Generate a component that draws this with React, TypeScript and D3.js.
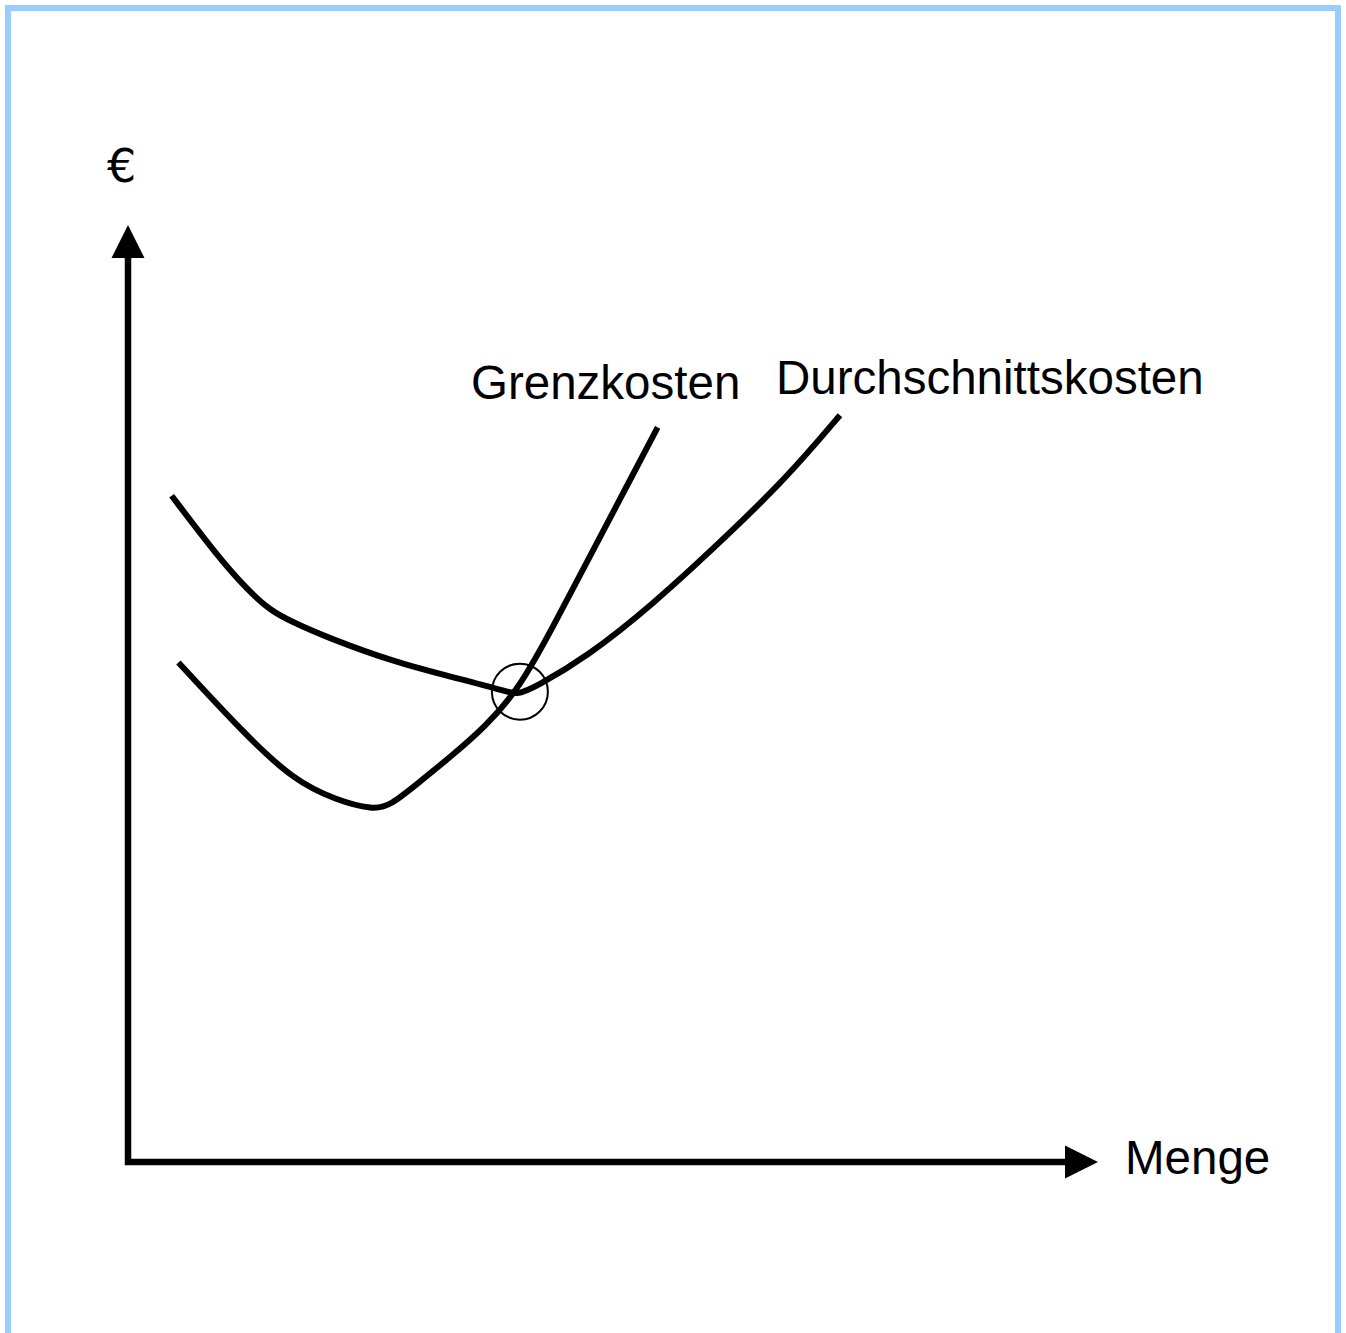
import React, { useRef, useEffect } from "react";
import * as d3 from "d3";

// Menge (x) and € (y) on a 0..100 scale
const mcQty = [5.2, 11.9, 17.0, 21.5, 25.3, 27.0, 30.1, 33.2, 36.8, 40.4, 44.0, 47.3, 50.8, 54.6];
const mcCost = [53.3, 45.8, 40.8, 38.6, 37.6, 38.0, 40.6, 43.2, 46.4, 50.6, 57.5, 64.0, 70.9, 78.4];

const acQty = [4.5, 9.5, 12.3, 14.6, 17.0, 20.5, 27.3, 34.0, 38.5, 40.1, 42.0, 47.3, 54.1, 61.0, 67.9, 73.4];
const acCost = [71.1, 64.3, 61.1, 58.9, 57.6, 56.0, 53.4, 51.6, 50.4, 49.8, 50.7, 53.9, 59.5, 66.1, 73.0, 79.7];

const labels = ["Grenzkosten", "Durchschnittskosten"];
const xLabel = "Menge";
const yLabel = "€";
const optimum = [40.4, 50.2];

const App = () => {
  const svgRef = useRef<SVGSVGElement>(null);

  useEffect(() => {
    document.body.style.margin = "0";
    const width = 1346;
    const height = 1333;
    const font = "'Liberation Sans', Arial, sans-serif";

    const x = d3.scaleLinear().domain([0, 100]).range([128, 1098]);
    const y = d3.scaleLinear().domain([0, 100]).range([1162, 225]);

    const svg = d3.select(svgRef.current);
    svg.selectAll("*").remove();
    svg.attr("width", width).attr("height", height).style("display", "block");

    // light blue frame
    svg
      .append("rect")
      .attr("x", 8)
      .attr("y", 8)
      .attr("width", 1330)
      .attr("height", 1345)
      .attr("fill", "#fff")
      .attr("stroke", "#99ccff")
      .attr("stroke-width", 6);

    // axes with arrowheads
    const arrowLen = 33;
    const arrowHalf = 16.5;
    const x0 = x(0);
    const y0 = y(0);
    svg
      .append("path")
      .attr("d", `M${x0},${y(100) + arrowLen}V${y0}H${x(100) - arrowLen}`)
      .attr("fill", "none")
      .attr("stroke", "#000")
      .attr("stroke-width", 6.5)
      .attr("stroke-linejoin", "miter");

    svg
      .append("path")
      .attr(
        "d",
        `M${x0},${y(100)}L${x0 - arrowHalf},${y(100) + arrowLen}L${x0 + arrowHalf},${y(100) + arrowLen}Z`
      )
      .attr("fill", "#000");
    svg
      .append("path")
      .attr(
        "d",
        `M${x(100)},${y0}L${x(100) - arrowLen},${y0 - arrowHalf}L${x(100) - arrowLen},${y0 + arrowHalf}Z`
      )
      .attr("fill", "#000");

    // cost curves
    const line = d3
      .line<[number, number]>()
      .x((d) => x(d[0]))
      .y((d) => y(d[1]))
      .curve(d3.curveBasis);

    const series = [
      d3.zip(mcQty, mcCost) as [number, number][],
      d3.zip(acQty, acCost) as [number, number][],
    ];

    svg
      .append("g")
      .selectAll("path")
      .data(series)
      .join("path")
      .attr("d", (d) => line(d))
      .attr("fill", "none")
      .attr("stroke", "#000")
      .attr("stroke-width", 6);

    // intersection marker
    svg
      .append("circle")
      .attr("cx", x(optimum[0]))
      .attr("cy", y(optimum[1]))
      .attr("r", 28)
      .attr("fill", "none")
      .attr("stroke", "#000")
      .attr("stroke-width", 2);

    // labels
    const textItems = [
      { t: yLabel, x: 107, y: 182, f: "'DejaVu Sans', sans-serif", s: 46 },
      { t: labels[0], x: 471, y: 399, f: font, s: 47.5 },
      { t: labels[1], x: 776, y: 394, f: font, s: 47.5 },
      { t: xLabel, x: 1125, y: 1174, f: font, s: 47.5 },
    ];
    svg
      .append("g")
      .selectAll("text")
      .data(textItems)
      .join("text")
      .attr("x", (d) => d.x)
      .attr("y", (d) => d.y)
      .attr("font-family", (d) => d.f)
      .attr("font-size", (d) => d.s)
      .attr("fill", "#000")
      .text((d) => d.t);
  }, []);

  return <svg ref={svgRef}></svg>;
};

export default App;
